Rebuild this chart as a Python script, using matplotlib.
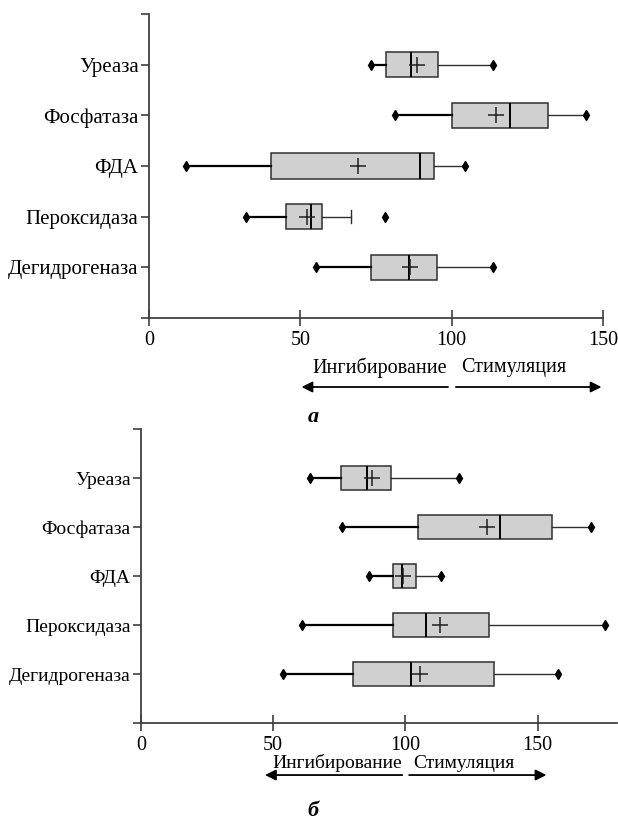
import matplotlib
matplotlib.use("Agg")
import matplotlib.pyplot as plt
import numpy as np

plt.rcParams['font.family'] = ['Liberation Serif', 'DejaVu Serif']

enzymes = ['Уреаза', 'Фосфатаза', 'ФДА', 'Пероксидаза', 'Дегидрогеназа']

# panel a
a_low = [73.2, 81.3, 12.2, 32.2, 55.3]
a_q1 = [78.4, 100.0, 40.2, 45.4, 73.2]
a_med = [86.6, 119.4, 89.6, 53.6, 85.9]
a_q3 = [95.6, 131.8, 94.3, 57.3, 95.3]
a_high = [113.5, 144.3, 104.4, 66.9, 113.5]
a_mean = [88.5, 114.6, 69.0, 52.1, 86.2]
a_fliers = [[], [], [], [78.1], []]

# panel b
b_low = [63.9, 76.0, 86.1, 60.9, 53.6]
b_q1 = [75.6, 104.8, 95.3, 95.3, 80.0]
b_med = [85.4, 135.9, 98.8, 107.7, 102.2]
b_q3 = [94.7, 155.5, 104.0, 131.7, 133.6]
b_high = [120.3, 170.0, 113.6, 175.5, 157.7]
b_mean = [87.2, 130.7, 99.2, 113.2, 105.4]
b_fliers = [[], [], [], [], []]

W, H = 618, 822
AX_COL = '#404040'


def draw_panel(ax, low, q1, med, q3, high, mean, fliers, xmax, ticks, fs):
    pos = [5, 4, 3, 2, 1]
    stats = []
    for i in range(len(enzymes)):
        stats.append(dict(whislo=low[i], q1=q1[i], med=med[i], q3=q3[i],
                          whishi=high[i], mean=mean[i], fliers=fliers[i]))
    res = ax.bxp(stats, positions=pos, vert=False, widths=0.5,
                 patch_artist=True, showmeans=True, showfliers=True,
                 boxprops=dict(facecolor='#d0d0d0', edgecolor='#303030', linewidth=1.1),
                 medianprops=dict(color='black', linewidth=1.4),
                 meanprops=dict(marker='+', markersize=11, markeredgecolor='#202020',
                                markeredgewidth=1.1),
                 flierprops=dict(marker='d', markersize=5.5, markerfacecolor='black',
                                 markeredgecolor='black'),
                 capwidths=0.25)
    for i in range(len(enzymes)):
        # lower whisker heavier than the upper one
        res['whiskers'][2 * i].set(color='black', linewidth=1.6)
        res['whiskers'][2 * i + 1].set(color='#303030', linewidth=1.0)
        res['caps'][2 * i].set_visible(False)
        ends = [low[i]]
        if fliers[i]:
            res['caps'][2 * i + 1].set(color='#303030', linewidth=1.0)
        else:
            res['caps'][2 * i + 1].set_visible(False)
            ends.append(high[i])
        ax.plot(ends, [pos[i]] * len(ends), linestyle='none', marker='d',
                markersize=5.5, color='black', zorder=4)

    ax.set_xlim(0, xmax)
    ax.set_ylim(0, 6)
    ax.set_yticks(range(7))
    ax.set_yticklabels([''] + enzymes[::-1] + [''])
    ax.set_xticks(ticks)
    ax.set_xticklabels([str(t) for t in ticks])
    for s in ['top', 'right']:
        ax.spines[s].set_visible(False)
    for s in ['left', 'bottom']:
        ax.spines[s].set_color(AX_COL)
        ax.spines[s].set_linewidth(1.3)
    ax.tick_params(axis='y', direction='out', length=5.5, width=1.2, color=AX_COL,
                   labelsize=fs, pad=2)
    ax.tick_params(axis='x', direction='inout', length=11, width=1.2, color=AX_COL,
                   labelsize=14.5, pad=4)
    ax.spines['left'].set_zorder(0)


def draw_arrows(ax, y_arrow, y_text, y_lab, x_lab, lab, left_end, right_end, fs):
    arr = dict(arrowstyle='-|>', color='black', linewidth=1.3,
               mutation_scale=16, shrinkA=0, shrinkB=0)
    ax.annotate('', xy=(left_end, y_arrow), xytext=(98.8, y_arrow),
                xycoords=('data', 'axes fraction'), textcoords=('data', 'axes fraction'),
                arrowprops=arr, annotation_clip=False)
    ax.annotate('', xy=(right_end, y_arrow), xytext=(101.4, y_arrow),
                xycoords=('data', 'axes fraction'), textcoords=('data', 'axes fraction'),
                arrowprops=arr, annotation_clip=False)
    ax.text(98.6, y_text, 'Ингибирование', ha='right', va='center', fontsize=fs,
            transform=ax.get_xaxis_transform())
    ax.text(103, y_text, 'Стимуляция', ha='left', va='center', fontsize=fs,
            transform=ax.get_xaxis_transform())
    ax.text(x_lab, y_lab, lab, ha='center', va='center', fontsize=16,
            fontweight='bold', fontstyle='italic', transform=ax.get_xaxis_transform())


fig = plt.figure(figsize=(W / 100, H / 100), dpi=100)

ax1 = fig.add_axes([149 / W, 1 - 318 / H, (603 - 149) / W, (318 - 14) / H])
draw_panel(ax1, a_low, a_q1, a_med, a_q3, a_high, a_mean, a_fliers, 150, [0, 50, 100, 150], 15)
draw_arrows(ax1, -0.227, -0.164, -0.326, 54.2, 'а', 50.4, 149.5, 14.5)

ax2 = fig.add_axes([141 / W, 1 - 723 / H, (617 - 141) / W, (723 - 429) / H])
draw_panel(ax2, b_low, b_q1, b_med, b_q3, b_high, b_mean, b_fliers, 180, [0, 50, 100, 150], 14)
draw_arrows(ax2, -0.177, -0.137, -0.298, 65.1, 'б', 46.9, 153.3, 14)

fig.savefig('out.png', dpi=100)
